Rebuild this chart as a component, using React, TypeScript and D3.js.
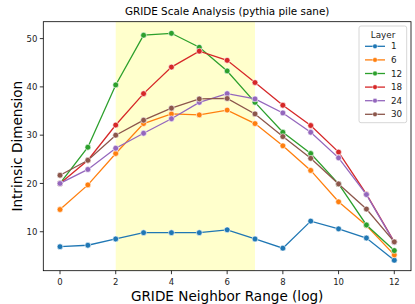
import React from 'react';
import { scaleLinear, line } from 'd3';

const COLORS = ['#1f77b4', '#ff7f0e', '#2ca02c', '#d62728', '#9467bd', '#8c564b'];

const layers = ['1', '6', '12', '18', '24', '30'];
const ranges = [0, 1, 2, 3, 4, 5, 6, 7, 8, 9, 10, 11, 12];

const layer1 = [6.9, 7.2, 8.5, 9.8, 9.8, 9.8, 10.4, 8.5, 6.6, 12.2, 10.6, 8.7, 4.1];
const layer6 = [14.6, 19.7, 26.2, 32.4, 34.4, 34.2, 35.2, 32.4, 27.8, 22.7, 16.2, 11.3, 5.2];
const layer12 = [20.0, 27.5, 40.4, 50.7, 51.1, 48.2, 43.3, 36.8, 30.6, 26.2, 19.9, 11.4, 6.1];
const layer18 = [20.0, 24.8, 32.1, 38.6, 44.1, 47.4, 45.5, 40.9, 36.2, 32.0, 26.5, 17.8, 7.9];
const layer24 = [20.0, 22.9, 27.3, 30.4, 33.4, 36.8, 38.6, 37.5, 34.6, 30.6, 25.3, 17.7, 7.8];
const layer30 = [21.7, 24.8, 30.0, 33.1, 35.6, 37.5, 37.6, 34.4, 29.7, 25.2, 19.9, 14.7, 7.9];

const series = [layer1, layer6, layer12, layer18, layer24, layer30];

const xTicks = [0, 2, 4, 6, 8, 10, 12];
const yTicks = [10, 20, 30, 40, 50];
const spanStart = 2;
const spanEnd = 7;

const W = 415;
const H = 304;
const left = 43.3;
const right = 411;
const top = 21.7;
const bottom = 270.7;

const font = 'DejaVu Sans, sans-serif';

export default function App() {
  const x = scaleLinear().domain([-0.6, 12.6]).range([left, right]);
  const y = scaleLinear().domain([1.93, 53.5]).range([bottom, top]);
  const path = line<number>()
    .x((_, i) => x(ranges[i]))
    .y((d) => y(d));

  return (
    <svg
      width={W}
      height={H}
      style={{ position: 'absolute', left: 0, top: 0, background: '#fff' }}
      fontFamily={font}
    >
      <rect x={0} y={0} width={W} height={H} fill="#fff" />
      <rect
        x={x(spanStart)}
        y={top}
        width={x(spanEnd) - x(spanStart)}
        height={bottom - top}
        fill="#ffffcc"
      />

      {series.map((s, k) => (
        <g key={layers[k]}>
          <path d={path(s) || ''} fill="none" stroke={COLORS[k]} strokeWidth={1.3} />
          {s.map((v, i) => (
            <circle
              key={i}
              cx={x(ranges[i])}
              cy={y(v)}
              r={2.9}
              fill={COLORS[k]}
              stroke="#fff"
              strokeWidth={0.6}
            />
          ))}
        </g>
      ))}

      <rect
        x={left}
        y={top}
        width={right - left}
        height={bottom - top}
        fill="none"
        stroke="#000"
        strokeWidth={0.8}
      />

      {xTicks.map((t) => (
        <g key={t} transform={`translate(${x(t)},${bottom})`}>
          <line y2={3.5} stroke="#000" strokeWidth={0.8} />
          <text y={14.8} textAnchor="middle" fontSize={8.5} fill="#222">
            {t}
          </text>
        </g>
      ))}
      {yTicks.map((t) => (
        <g key={t} transform={`translate(${left},${y(t)})`}>
          <line x2={-3.5} stroke="#000" strokeWidth={0.8} />
          <text x={-6} dy="0.36em" textAnchor="end" fontSize={8.5} fill="#222">
            {t}
          </text>
        </g>
      ))}

      <text x={(left + right) / 2} y={14.5} textAnchor="middle" fontSize={10.4} fill="#000">
        GRIDE Scale Analysis (pythia pile sane)
      </text>
      <text x={(left + right) / 2} y={300.5} textAnchor="middle" fontSize={13.6} fill="#000">
        GRIDE Neighbor Range (log)
      </text>
      <text
        transform={`translate(21.5,${(top + bottom) / 2}) rotate(-90)`}
        textAnchor="middle"
        fontSize={13.6}
        fill="#000"
      >
        Intrinsic Dimension
      </text>

      <g>
        <rect
          x={359}
          y={26}
          width={47.7}
          height={96.7}
          rx={2}
          fill="#fff"
          fillOpacity={0.8}
          stroke="#ccc"
          strokeWidth={0.8}
        />
        <text x={383} y={38} textAnchor="middle" fontSize={8.8} fill="#222">
          Layer
        </text>
        {layers.map((l, k) => {
          const ly = 46.3 + k * 13.6;
          return (
            <g key={l}>
              <line x1={365} x2={385} y1={ly} y2={ly} stroke={COLORS[k]} strokeWidth={1.3} />
              <circle cx={375} cy={ly} r={2.4} fill={COLORS[k]} stroke="#fff" strokeWidth={0.5} />
              <text x={391} y={ly} dy="0.36em" fontSize={8.8} fill="#222">
                {l}
              </text>
            </g>
          );
        })}
      </g>
    </svg>
  );
}
